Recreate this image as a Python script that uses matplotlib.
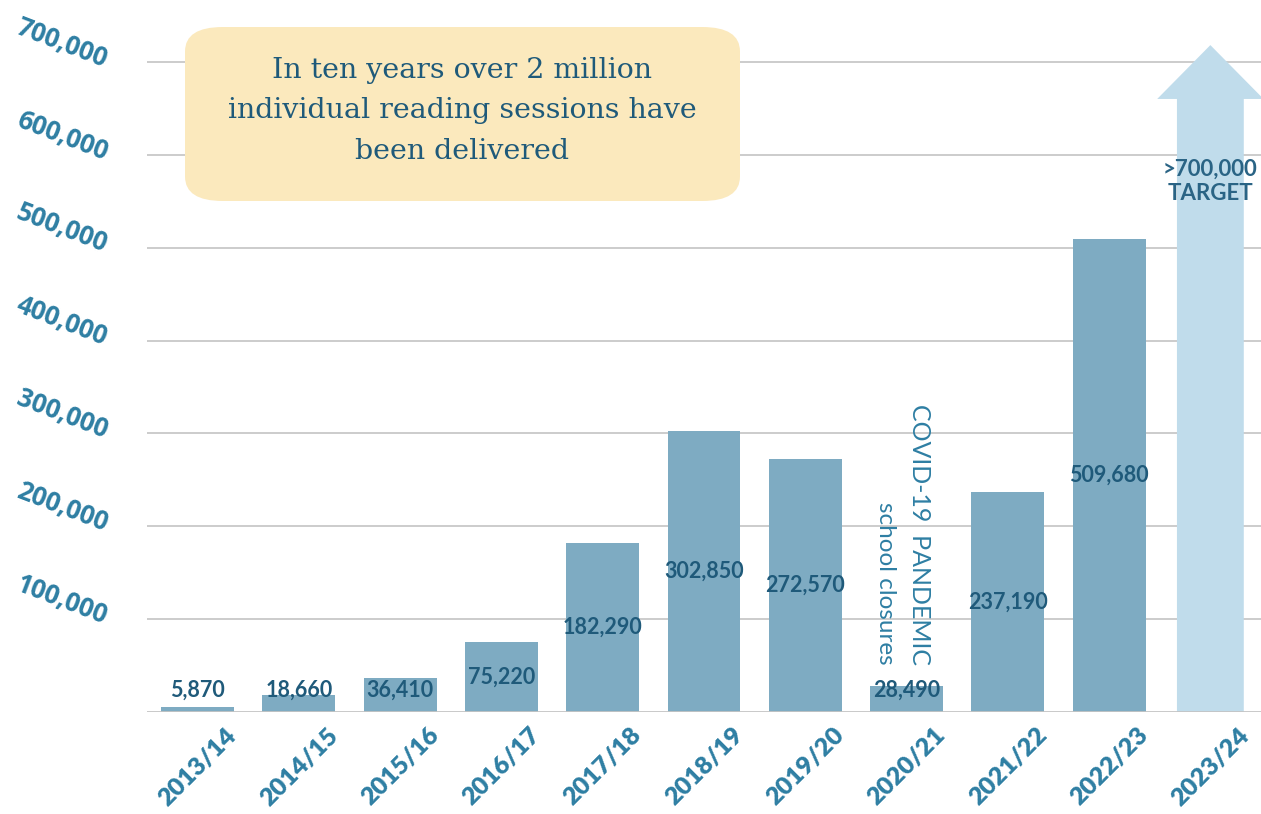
import matplotlib
matplotlib.use("Agg")
import matplotlib.pyplot as plt
import matplotlib.transforms as mtransforms
from matplotlib.patches import FancyArrow, FancyBboxPatch

# data
years = ["2013/14", "2014/15", "2015/16", "2016/17", "2017/18", "2018/19",
         "2019/20", "2020/21", "2021/22", "2022/23", "2023/24"]
sessions = [5870, 18660, 36410, 75220, 182290, 302850, 272570, 28490, 237190, 509680]
target = 700000
yticks = [100000, 200000, 300000, 400000, 500000, 600000, 700000]

bar_col = "#7eabc2"
arrow_col = "#c0dceb"
dark = "#1f5a7a"
mid = "#2e7ea3"

fig = plt.figure(figsize=(12.61, 8.14), dpi=100)
ax = fig.add_axes([147 / 1261, 102 / 814, 1 - 147 / 1261, 712 / 814])
ax.set_xlim(-0.5, 10.5)
ax.set_ylim(0, 766770)

# gridlines
for v in yticks:
    ax.axhline(v, color="#c4c4c4", lw=1.2, zorder=0)
ax.axhline(0, color="#c4c4c4", lw=2, zorder=3)

xs = list(range(len(sessions)))
ax.bar(xs, sessions, width=0.72, color=bar_col, zorder=2)

for x, v in zip(xs, sessions):
    ax.text(x, max(v / 2, 23000), f"{v:,}", ha="center", va="center",
            fontsize=15.5, fontweight="bold", family="Lato", color=dark, zorder=4)

# target arrow
tip = target * 1.026
ax.add_patch(FancyArrow(len(sessions), 0, 0, tip, width=0.66, head_width=1.05,
                        head_length=58000, length_includes_head=True,
                        color=arrow_col, lw=0, zorder=2))
ax.text(len(sessions), 571000, ">700,000\nTARGET", ha="center", va="center",
        fontsize=16, fontweight="bold", family="Lato", color="#2a6485",
        linespacing=1.2, zorder=4)

# covid note
ax.text(7.13, 50600, "COVID-19  PANDEMIC", rotation=-90, ha="center", va="bottom",
        fontsize=18, family="Lato", color=mid, zorder=4)
ax.text(6.79, 50600, "school closures", rotation=-90, ha="center", va="bottom",
        fontsize=17.5, family="Lato", color=mid, zorder=4)

# y labels, rotated, placed left of axes
ax.set_yticks([])
ylab_tr = mtransforms.blended_transform_factory(fig.transFigure, ax.transData) + \
    mtransforms.ScaledTranslation(0, 0.19, fig.dpi_scale_trans)
for v in yticks:
    ax.text(62 / 1261, v, f"{v:,}", transform=ylab_tr, rotation=-21,
            ha="center", va="center", fontsize=18.5, fontweight="bold",
            family="Open Sans", color=mid)

# x labels
ax.set_xticks(range(len(years)))
ax.set_xticklabels(years, rotation=45, ha="right", va="center",
                   rotation_mode="anchor", fontsize=18, fontweight="heavy",
                   family="Lato", color=mid)
ax.tick_params(axis="x", length=0, pad=14)
off = mtransforms.ScaledTranslation(0.35, 0, fig.dpi_scale_trans)
for lab in ax.get_xticklabels():
    lab.set_transform(lab.get_transform() + off)

for s in ax.spines.values():
    s.set_visible(False)

# callout box
box = FancyBboxPatch((185 / 1261, 1 - 201 / 814), (740 - 185) / 1261, (201 - 27) / 814,
                     boxstyle="round,pad=0,rounding_size=0.03", transform=fig.transFigure,
                     facecolor="#fbe9bd", edgecolor="none", zorder=5)
fig.patches.append(box)
fig.text(462 / 1261, 1 - 111 / 814,
         "In ten years over 2 million\nindividual reading sessions have\nbeen delivered",
         ha="center", va="center", fontsize=20.5, family="DejaVu Serif", color=dark,
         linespacing=1.63, zorder=6)

fig.savefig("out.png", dpi=100)
